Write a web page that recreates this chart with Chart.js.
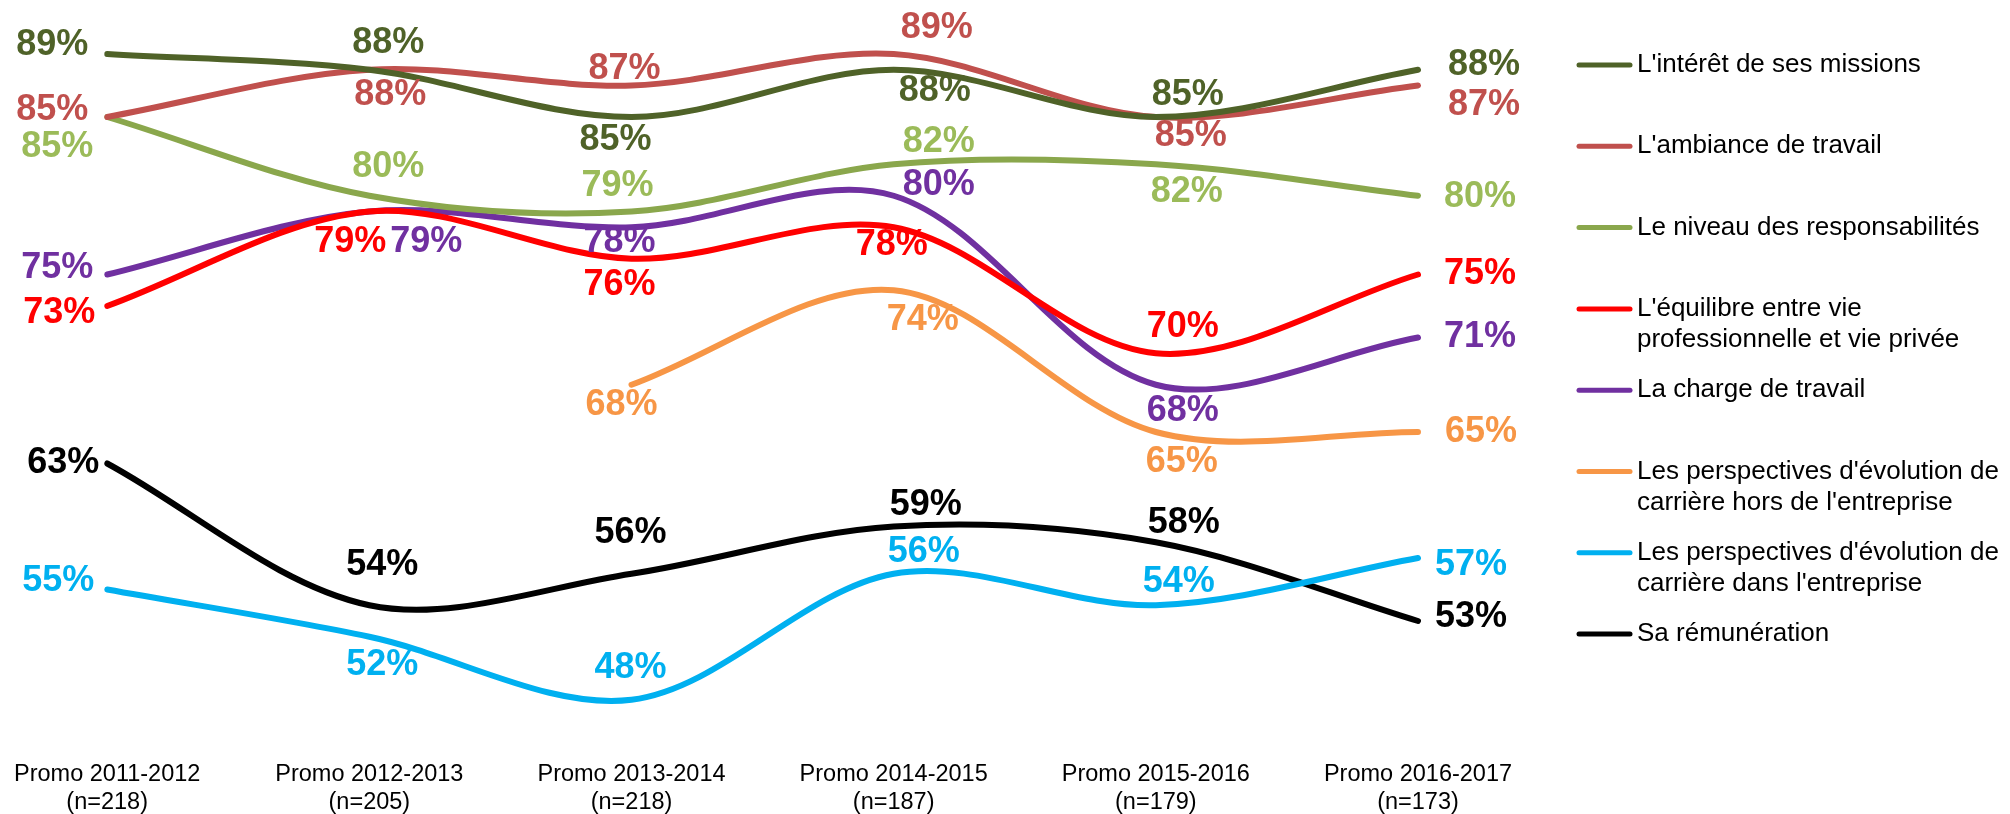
<!DOCTYPE html>
<html>
<head>
<meta charset="utf-8">
<script src="https://cdn.jsdelivr.net/npm/chart.js@4"></script>
<style>
  body { margin: 0; background: #fff; }
</style>
</head>
<body>
<canvas id="myChart" width="2010" height="814"></canvas>
<script>
const promos = ["Promo 2011-2012", "Promo 2012-2013", "Promo 2013-2014", "Promo 2014-2015", "Promo 2015-2016", "Promo 2016-2017"];
const effectifs = [218, 205, 218, 187, 179, 173];

const interetMissions = [89, 88, 85, 88, 85, 88];
const ambianceTravail = [85, 88, 87, 89, 85, 87];
const niveauResponsabilites = [85, 80, 79, 82, 82, 80];
const equilibreVie = [73, 79, 76, 78, 70, 75];
const chargeTravail = [75, 79, 78, 80, 68, 71];
const evolutionHors = [null, null, 68, 74, 65, 65];
const evolutionDans = [55, 52, 48, 56, 54, 57];
const remuneration = [63, 54, 56, 59, 58, 53];

const seriesNames = [
  "L'intérêt de ses missions",
  "L'ambiance de travail",
  "Le niveau des responsabilités",
  "L'équilibre entre vie professionnelle et vie privée",
  "La charge de travail",
  "Les perspectives d'évolution de carrière hors de l'entreprise",
  "Les perspectives d'évolution de carrière dans l'entreprise",
  "Sa rémunération",
];

const FONT = "'Liberation Sans', Arial, sans-serif";

// where each value label sits relative to its point (dx, dy in px), like the manual placement in the original
function makeSet(label, data, color, labelColor, offsets) {
  return {
    label: label,
    data: data,
    borderColor: color,
    backgroundColor: color,
    labelColor: labelColor,
    labelOffsets: offsets,
    borderWidth: 6,
    borderCapStyle: "round",
    borderJoinStyle: "round",
    pointRadius: 0,
    pointHoverRadius: 0,
    tension: 0.33,
    fill: false,
  };
}

const datasets = [
  makeSet(seriesNames[0], interetMissions, "#4F6228", "#4F6228",
    [[-55, -9], [19, -27], [-16, 23], [41, 21], [32, -22], [66, -5]]),
  makeSet(seriesNames[1], ambianceTravail, "#C0504D", "#C0504D",
    [[-55, -7], [21, 25], [-7, -16], [43, -26], [35, 19], [66, 20]]),
  makeSet(seriesNames[2], niveauResponsabilites, "#8AA74C", "#9BBB59",
    [[-50, 30], [19, -29], [-14, -25], [45, -22], [31, 28], [62, 1]]),
  makeSet(seriesNames[3], equilibreVie, "#FF0000", "#FF0000",
    [[-48, 7], [-19, 31], [-12, 26], [-2, 18], [27, -26], [62, 0]]),
  makeSet(seriesNames[4], chargeTravail, "#7030A0", "#7030A0",
    [[-50, -6], [57, 31], [-12, 15], [45, -11], [27, 26], [62, 0]]),
  makeSet(seriesNames[5], evolutionHors, "#F79646", "#F79646",
    [null, null, [-10, 20], [29, 30], [26, 30], [63, 0]]),
  makeSet(seriesNames[6], evolutionDans, "#00B0F0", "#00B0F0",
    [[-49, -8], [13, 28], [-1, -32], [30, -22], [23, -23], [53, 7]]),
  makeSet(seriesNames[7], remuneration, "#000000", "#000000",
    [[-44, 0], [13, -40], [-1, -41], [32, -21], [28, -19], [53, -4]]),
];

// value labels drawn after all lines
const valueLabels = {
  id: "valueLabels",
  afterDatasetsDraw(chart) {
    const ctx = chart.ctx;
    ctx.save();
    ctx.font = "bold 36px " + FONT;
    ctx.textAlign = "center";
    ctx.textBaseline = "middle";
    chart.data.datasets.forEach((ds, i) => {
      const meta = chart.getDatasetMeta(i);
      meta.data.forEach((pt, j) => {
        const v = ds.data[j];
        if (v === null || v === undefined) return;
        const off = ds.labelOffsets[j] || [0, 0];
        ctx.fillStyle = ds.labelColor;
        ctx.fillText(v + "%", pt.x + off[0], pt.y + off[1]);
      });
    });
    ctx.restore();
  },
};

// legend on the right, with wrapped labels
const sideLegend = {
  id: "sideLegend",
  afterDraw(chart) {
    const ctx = chart.ctx;
    const lineX1 = 1579, lineX2 = 1630, textX = 1637;
    const firstY = 65, step = 81.3, lineH = 31, maxW = 372;
    ctx.save();
    ctx.font = "26px " + FONT;
    ctx.textBaseline = "middle";
    ctx.textAlign = "left";
    chart.data.datasets.forEach((ds, i) => {
      const y = firstY + i * step;
      ctx.strokeStyle = ds.borderColor;
      ctx.lineWidth = 5;
      ctx.lineCap = "round";
      ctx.beginPath();
      ctx.moveTo(lineX1, y);
      ctx.lineTo(lineX2, y);
      ctx.stroke();

      // wrap words
      const words = ds.label.split(" ");
      const lines = [];
      let cur = "";
      words.forEach((w) => {
        const test = cur ? cur + " " + w : w;
        if (ctx.measureText(test).width > maxW && cur) {
          lines.push(cur);
          cur = w;
        } else {
          cur = test;
        }
      });
      if (cur) lines.push(cur);
      ctx.fillStyle = "#000";
      lines.forEach((ln, k) => ctx.fillText(ln, textX, y + k * lineH));
    });
    ctx.restore();
  },
};

const ctx = document.getElementById("myChart");

new Chart(ctx, {
  type: "line",
  data: {
    labels: promos.map((p, i) => [p, "(n=" + effectifs[i] + ")"]),
    datasets: datasets,
  },
  options: {
    responsive: false,
    animation: false,
    devicePixelRatio: 1,
    layout: {
      padding: { left: 104, right: 592, top: 6.75, bottom: 0 },
    },
    plugins: {
      legend: { display: false },
      tooltip: { enabled: false },
    },
    scales: {
      x: {
        grid: { display: false, drawTicks: false },
        border: { display: false },
        ticks: {
          color: "#000",
          font: { family: FONT, size: 23.5, lineHeight: 1.19 },
          padding: 14,
          maxRotation: 0,
          autoSkip: false,
        },
        afterFit(scale) {
          scale.height = 67;
        },
      },
      y: {
        display: false,
        min: 45,
        max: 92,
      },
    },
  },
  plugins: [valueLabels, sideLegend],
});
</script>
</body>
</html>
